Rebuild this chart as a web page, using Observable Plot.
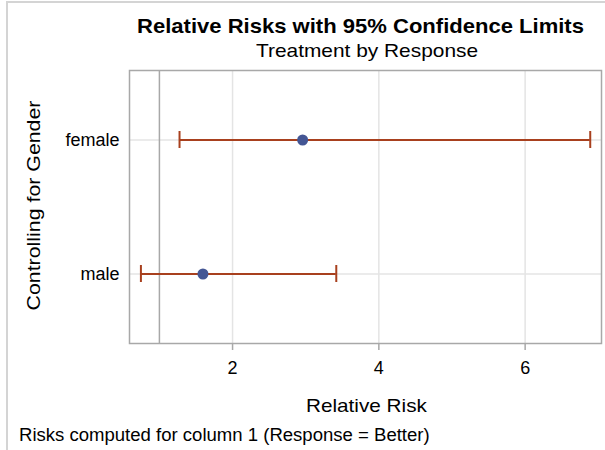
<!DOCTYPE html>
<html>
<head>
<meta charset="utf-8">
<script src="https://cdn.jsdelivr.net/npm/d3@7"></script>
<script src="https://cdn.jsdelivr.net/npm/@observablehq/plot@0.6"></script>
<style>
  html, body { margin: 0; padding: 0; background: #fff; }
  #wrap { position: relative; width: 605px; height: 450px; overflow: hidden; font-family: "Liberation Sans", Arial, sans-serif; color: #000; }
  #wrap svg { position: absolute; left: 0; top: 0; }
  .t { position: absolute; white-space: nowrap; line-height: 1; }
  #bleft { position: absolute; left: 6px; top: 1px; width: 2px; height: 449px; background: #d4d4d4; }
  #btop { position: absolute; left: 6px; top: 1px; width: 599px; height: 2px; background: #d4d4d4; }
</style>
</head>
<body>
<div id="wrap">
  <div id="bleft"></div><div id="btop"></div>
</div>
<script>
const groups = ["female", "male"];
const relRisk = [2.958, 1.595];
const lowerCL = [1.275, 0.747];
const upperCL = [6.89, 3.418];
const xTicks = [2, 4, 6];
const refValue = [1];
const titleText = "Relative Risks with 95% Confidence Limits";
const subtitleText = "Treatment by Response";
const xLabel = "Relative Risk";
const yLabel = "Controlling for Gender";
const footnote = "Risks computed for column 1 (Response = Better)";

const data = groups.map((g, i) => ({g, rr: relRisk[i], lo: lowerCL[i], hi: upperCL[i]}));
const errColor = "#A8401E";
const dotColor = "#445694";

const chart = Plot.plot({
  width: 605,
  height: 400,
  marginLeft: 129,
  marginRight: 4,
  marginTop: 70,
  marginBottom: 57,
  style: {fontFamily: "'Liberation Sans', Arial, sans-serif", fontSize: "18px", color: "#000", background: "transparent"},
  x: {domain: [0.591, 7.044]},
  y: {type: "band", domain: groups, paddingInner: 0.874, paddingOuter: 0.45},
  marks: [
    Plot.gridX(xTicks, {stroke: "#e4e4e4", strokeOpacity: 1, strokeWidth: 1.5}),
    Plot.gridY(groups, {stroke: "#e4e4e4", strokeOpacity: 1, strokeWidth: 1.5}),
    Plot.ruleX(refValue, {stroke: "#a8a8a8", strokeWidth: 1.5}),
    Plot.axisX({ticks: xTicks, tickSize: 7, tickPadding: 11, stroke: "#a8a8a8", strokeWidth: 1.5, fontSize: 18, fill: "#000", label: null, tickFormat: d => String(d)}),
    Plot.axisY({tickSize: 0, tickPadding: 10, fontSize: 18, fill: "#000", label: null}),
    Plot.ruleY(data, {y: "g", x1: "lo", x2: "hi", stroke: errColor, strokeWidth: 2}),
    Plot.tickX(data, {y: "g", x: "lo", stroke: errColor, strokeWidth: 2}),
    Plot.tickX(data, {y: "g", x: "hi", stroke: errColor, strokeWidth: 2}),
    Plot.dot(data, {y: "g", x: "rr", r: 5.5, fill: dotColor, stroke: null}),
    Plot.frame({stroke: "#a8a8a8", strokeWidth: 1.5})
  ]
});

const wrap = document.getElementById("wrap");
wrap.appendChild(chart);

// place a text so that its baseline sits at `baseline`, fitted to `targetW` px wide
function addText(txt, {size, weight = "normal", baseline, targetW, centerX, left}) {
  const d = document.createElement("div");
  d.className = "t";
  d.textContent = txt;
  d.style.fontSize = size + "px";
  d.style.fontWeight = weight;
  wrap.appendChild(d);
  const w = d.offsetWidth;
  const s = targetW / w;
  d.style.top = (baseline - 0.8465 * size) + "px";
  d.style.transformOrigin = "0 0";
  d.style.transform = `scaleX(${s})`;
  d.style.left = (left !== undefined ? left : centerX - (w * s) / 2) + "px";
  return d;
}
addText(titleText, {size: 21, weight: "bold", baseline: 33, targetW: 447, centerX: 360.5});
addText(subtitleText, {size: 19, baseline: 57, targetW: 222, centerX: 367});
addText(xLabel, {size: 19, baseline: 412, targetW: 121, centerX: 366.5});
addText(footnote, {size: 18, baseline: 441, targetW: 411, left: 19});

// Y axis label rotated
const yl = document.createElement("div");
yl.className = "t";
yl.textContent = yLabel;
yl.style.fontSize = "19px";
wrap.appendChild(yl);
const yw = yl.offsetWidth, yh = yl.offsetHeight;
const ys = 210 / yw;
yl.style.left = (33 - yw / 2) + "px";
yl.style.top = (205 - yh / 2) + "px";
yl.style.transformOrigin = "50% 50%";
yl.style.transform = `rotate(-90deg) scaleX(${ys})`;
</script>
</body>
</html>
